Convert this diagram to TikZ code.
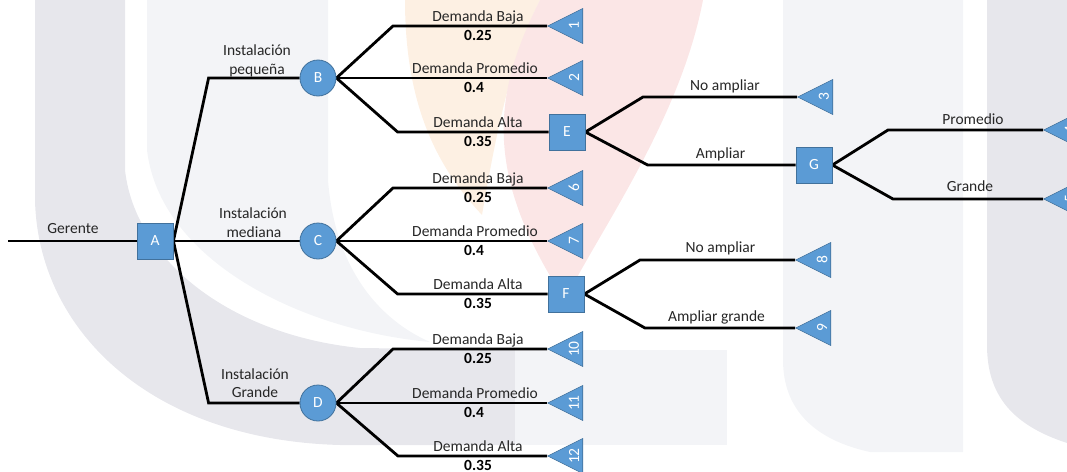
\documentclass[tikz,border=0pt]{standalone}
\usepackage{fontspec}
\setmainfont{Carlito}
\usetikzlibrary{shapes.geometric,backgrounds}
\definecolor{nodeblue}{HTML}{5B9BD5}
\definecolor{nodeedge}{HTML}{41719C}
\definecolor{inkgray}{HTML}{262626}
\definecolor{wmgray}{HTML}{E7E7EC}
\definecolor{wmlight}{HTML}{F3F4F7}
\definecolor{wmorange}{HTML}{FDF0E3}
\definecolor{wmpink}{HTML}{FBE6E6}

\begin{document}
\begin{tikzpicture}[x=1pt,y=-1pt,
  font=\fontsize{15.5}{18}\selectfont,
  decision/.style={rectangle, draw=nodeedge, fill=nodeblue, line width=0.8pt,
    minimum size=36pt, inner sep=0pt, text=white},
  chance/.style={circle, draw=nodeedge, fill=nodeblue, line width=0.8pt,
    minimum size=36pt, inner sep=0pt, text=white},
  endtri/.style={isosceles triangle, shape border rotate=180,
    isosceles triangle stretches, minimum width=35pt, minimum height=35pt,
    inner sep=0pt, draw=nodeedge, fill=nodeblue, line width=0.6pt, anchor=apex},
  endnum/.style={rotate=90, text=white, inner sep=0pt},
  branch/.style={line width=2.8pt, draw=black},
  lbl/.style={text=inkgray, anchor=base, inner sep=0pt},
  prob/.style={lbl, font=\fontsize{15.5}{18}\selectfont\bfseries, text=black},
]
\useasboundingbox (0,0) rectangle (1067,471);

% ---------- decision and chance nodes ----------
\node[decision] (A) at (155,241) {A};
\node[chance]   (B) at (318,78)  {B};
\node[chance]   (C) at (318,241) {C};
\node[chance]   (D) at (318,403) {D};
\node[decision] (E) at (567,132) {E};
\node[decision] (F) at (566,294) {F};
\node[decision] (G) at (814,165) {G};
\coordinate (start) at (8,241);

% ---------- terminal triangles ----------
\node[endtri] (t1)  at (547,26)  {};
\node[endtri] (t2)  at (547,78)  {};
\node[endtri] (t6)  at (547,188) {};
\node[endtri] (t7)  at (547,241) {};
\node[endtri] (t10) at (547,349) {};
\node[endtri] (t11) at (547,403) {};
\node[endtri] (t12) at (547,456) {};
\node[endtri] (t3)  at (797,97)  {};
\node[endtri] (t8)  at (795,260) {};
\node[endtri] (t9)  at (795,328) {};
\node[endtri] (t4)  at (1043,130) {};
\node[endtri] (t5)  at (1043,199) {};

\foreach \t/\n in {t1/1,t2/2,t3/3,t4/4,t5/5,t6/6,t7/7,t8/8,t9/9,t10/10,t11/11,t12/12}
  \node[endnum] (\t n) at ([xshift=27]\t.apex) {\n};

% ---------- branches ----------
\begin{scope}[on background layer]
  % faint watermark shapes
  \fill[wmgray] (35,0) -- (125,0) -- (125,170)
    .. controls (135,260) and (230,335) .. (360,348) -- (515,350) -- (515,445)
    -- (340,445) .. controls (150,440) and (38,330) .. (35,200) -- cycle;
  \fill[wmlight] (147,0) -- (328,0) -- (328,180)
    .. controls (335,270) and (380,320) .. (430,342)
    .. controls (300,330) and (160,260) .. (147,150) -- cycle;
  \fill[wmlight] (515,350) -- (727,350) -- (727,445) -- (515,445) -- cycle;
  \fill[wmlight] (783,0) -- (963,0) -- (963,452) -- (870,452)
    .. controls (815,440) and (783,410) .. (783,360) -- cycle;
  \fill[wmgray] (987,0) -- (1067,0) -- (1067,443)
    .. controls (1012,425) and (987,395) .. (987,345) -- cycle;
  \fill[wmorange] (405,0) -- (540,0) .. controls (510,60) and (495,140) .. (482,215)
    .. controls (440,170) and (405,110) .. (405,0) -- cycle;
  \fill[wmpink] (540,0) .. controls (495,90) and (480,170) .. (565,300)
    .. controls (600,230) and (680,120) .. (703,0) -- cycle;

  % root
  \draw[branch] (start) -- (A.west);
  \draw[branch] (A.east) -- ([xshift=-91]B.west) -- (B.west);
  \draw[branch] (A.east) -- (C.west);
  \draw[branch] (A.east) -- ([xshift=-91]D.west) -- (D.west);
  % small facility
  \draw[branch] (B.east) -- ([xshift=-154]t1.apex) -- (t1.apex);
  \draw[branch] (B.east) -- (t2.apex);
  \draw[branch] (B.east) -- ([xshift=-151]E.west) -- (E.west);
  % medium facility
  \draw[branch] (C.east) -- ([xshift=-154]t6.apex) -- (t6.apex);
  \draw[branch] (C.east) -- (t7.apex);
  \draw[branch] (C.east) -- ([xshift=-150]F.west) -- (F.west);
  % large facility
  \draw[branch] (D.east) -- ([xshift=-154]t10.apex) -- (t10.apex);
  \draw[branch] (D.east) -- (t11.apex);
  \draw[branch] (D.east) -- ([xshift=-149]t12.apex) -- (t12.apex);
  % expansion decisions
  \draw[branch] (E.east) -- ([xshift=-154]t3.apex) -- (t3.apex);
  \draw[branch] (E.east) -- ([xshift=-148]G.west) -- (G.west);
  \draw[branch] (F.east) -- ([xshift=-155]t8.apex) -- (t8.apex);
  \draw[branch] (F.east) -- ([xshift=-150]t9.apex) -- (t9.apex);
  \draw[branch] (G.east) -- ([xshift=-155]t4.apex) -- (t4.apex);
  \draw[branch] (G.east) -- ([xshift=-150]t5.apex) -- (t5.apex);
\end{scope}

% ---------- labels ----------
\node[lbl] (lger) at (73,233.5) {Gerente};
\node[lbl] (lb1) at (257,55)    {Instalación};
\node[lbl] (lb2) at (257,74)    {pequeña};
\node[lbl] (lc1) at (253,218.5) {Instalación};
\node[lbl] (lc2) at (254,237)   {mediana};
\node[lbl] (ld1) at (255,379)   {Instalación};
\node[lbl] (ld2) at (255,397.5) {Grande};

\foreach \k/\y in {b/26,c/188,d/349}{
  \node[lbl]  (low\k)  at (478,\y-4.5) {Demanda Baja};
  \node[prob] (plow\k) at (478,\y+14)  {0.25};
}
\foreach \k/\y in {b/78,c/241,d/403}{
  \node[lbl]  (mid\k)  at (475,\y-4.5) {Demanda Promedio};
  \node[prob] (pmid\k) at (474,\y+14)  {0.4};
}
\foreach \k/\y in {b/132,c/294,d/456}{
  \node[lbl]  (high\k)  at (478,\y-4.5) {Demanda Alta};
  \node[prob] (phigh\k) at (478,\y+14)  {0.35};
}

\node[lbl] (le1) at (725,90.5)   {No ampliar};
\node[lbl] (le2) at (720.5,158.3) {Ampliar};
\node[lbl] (lf1) at (720.5,252)  {No ampliar};
\node[lbl] (lf2) at (716.5,321)  {Ampliar grande};
\node[lbl] (lg1) at (973,124.3)  {Promedio};
\node[lbl] (lg2) at (970,191.5)  {Grande};
\end{tikzpicture}
\end{document}
